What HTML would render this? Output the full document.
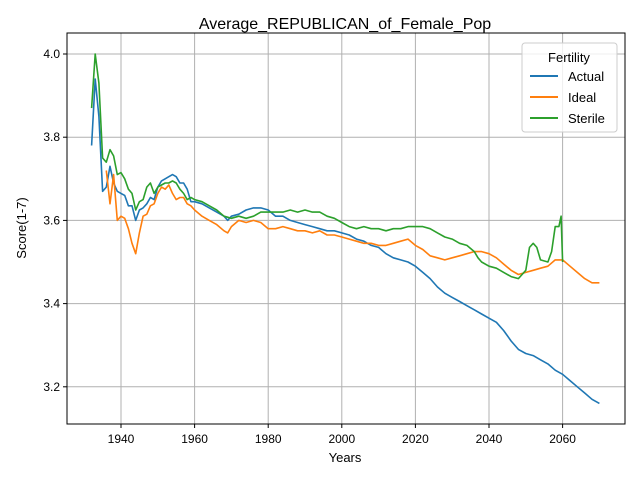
<!DOCTYPE html>
<html><head><meta charset="utf-8"><style>
body{margin:0;background:#fff;}
svg{font-family:"Liberation Sans","DejaVu Sans",sans-serif;}
</style></head><body>
<svg id="chart" width="640" height="480" viewBox="0 0 640 480">
<rect x="0" y="0" width="640" height="480" fill="#fff"/>
<text x="345" y="29" font-size="16" text-anchor="middle">Average_REPUBLICAN_of_Female_Pop</text>
<g id="grid"></g>
<g id="series"></g>
<rect x="67" y="33" width="558" height="391" fill="none" stroke="#000" stroke-width="1"/>
<g id="ticks"></g>
<text x="345" y="462" font-size="13" text-anchor="middle">Years</text>
<text x="26" y="228" font-size="13" text-anchor="middle" transform="rotate(-90 26 228)">Score(1-7)</text>
<g>
<rect x="522" y="43" width="95" height="89" rx="3" fill="#fff" fill-opacity="0.8" stroke="#ccc"/>
<text x="569" y="62" font-size="13" text-anchor="middle">Fertility</text>
<line x1="530" y1="76" x2="558" y2="76" stroke="#1f77b4" stroke-width="2"/>
<text x="568" y="81" font-size="13">Actual</text>
<line x1="530" y1="97" x2="558" y2="97" stroke="#ff7f0e" stroke-width="2"/>
<text x="568" y="102" font-size="13">Ideal</text>
<line x1="530" y1="118" x2="558" y2="118" stroke="#2ca02c" stroke-width="2"/>
<text x="568" y="123" font-size="13">Sterile</text>
</g>
</svg>
<script>
const xTicks=[1940,1960,1980,2000,2020,2040,2060];
const yTicks=[3.2,3.4,3.6,3.8,4.0];
const actualYears=[1932,1933,1934,1935,1936,1937,1938,1939,1940,1941,1942,1943,1944,1945,1946,1947,1948,1949,1950,1951,1952,1953,1954,1955,1956,1957,1958,1959,1960,1962,1964,1966,1968,1969,1970,1972,1974,1976,1978,1980,1982,1984,1986,1988,1990,1992,1994,1996,1998,2000,2002,2004,2006,2008,2010,2012,2014,2016,2018,2020,2022,2024,2026,2028,2030,2032,2034,2036,2038,2040,2042,2044,2046,2048,2050,2052,2054,2056,2058,2060,2062,2064,2066,2068,2070];
const actualValues=[3.78,3.94,3.85,3.67,3.68,3.73,3.69,3.67,3.665,3.66,3.635,3.635,3.60,3.625,3.63,3.64,3.655,3.65,3.68,3.695,3.70,3.705,3.71,3.705,3.69,3.69,3.675,3.645,3.645,3.64,3.63,3.62,3.61,3.60,3.61,3.615,3.625,3.63,3.63,3.625,3.61,3.61,3.60,3.595,3.59,3.585,3.58,3.575,3.575,3.57,3.565,3.555,3.55,3.54,3.535,3.52,3.51,3.505,3.50,3.49,3.475,3.46,3.44,3.425,3.415,3.405,3.395,3.385,3.375,3.365,3.355,3.335,3.31,3.29,3.28,3.275,3.265,3.255,3.24,3.23,3.215,3.20,3.185,3.17,3.16];
const idealYears=[1936,1937,1938,1939,1940,1941,1942,1943,1944,1945,1946,1947,1948,1949,1950,1951,1952,1953,1954,1955,1956,1957,1958,1959,1960,1962,1964,1966,1968,1969,1970,1972,1974,1976,1978,1980,1982,1984,1986,1988,1990,1992,1994,1996,1998,2000,2002,2004,2006,2008,2010,2012,2014,2016,2018,2020,2022,2024,2026,2028,2030,2032,2034,2036,2038,2040,2042,2044,2046,2048,2050,2052,2054,2056,2058,2060,2062,2064,2066,2068,2070];
const idealValues=[3.72,3.64,3.71,3.60,3.61,3.605,3.58,3.545,3.52,3.57,3.61,3.615,3.635,3.64,3.665,3.68,3.675,3.685,3.665,3.65,3.655,3.655,3.64,3.635,3.625,3.61,3.60,3.59,3.575,3.57,3.585,3.60,3.595,3.60,3.595,3.58,3.58,3.585,3.58,3.575,3.575,3.57,3.575,3.565,3.565,3.56,3.555,3.55,3.545,3.545,3.54,3.54,3.545,3.55,3.555,3.54,3.53,3.515,3.51,3.505,3.51,3.515,3.52,3.525,3.525,3.52,3.51,3.495,3.48,3.47,3.475,3.48,3.485,3.49,3.505,3.505,3.49,3.475,3.46,3.45,3.45];
const sterileYears=[1932,1933,1934,1935,1936,1937,1938,1939,1940,1941,1942,1943,1944,1945,1946,1947,1948,1949,1950,1951,1952,1953,1954,1955,1956,1957,1958,1959,1960,1962,1964,1966,1968,1970,1972,1974,1976,1978,1980,1982,1984,1986,1988,1990,1992,1994,1996,1998,2000,2002,2004,2006,2008,2010,2012,2014,2016,2018,2020,2022,2024,2026,2028,2030,2032,2034,2036,2037,2038,2040,2042,2044,2046,2048,2050,2051,2052,2053,2054,2056,2057,2058,2059,2059.6,2060];
const sterileValues=[3.87,4.0,3.93,3.75,3.74,3.77,3.755,3.71,3.715,3.70,3.675,3.665,3.625,3.645,3.65,3.68,3.69,3.665,3.68,3.685,3.69,3.69,3.695,3.69,3.675,3.665,3.65,3.655,3.65,3.645,3.635,3.625,3.61,3.605,3.61,3.605,3.61,3.62,3.62,3.62,3.62,3.625,3.62,3.625,3.62,3.62,3.61,3.605,3.595,3.585,3.58,3.585,3.58,3.58,3.575,3.58,3.58,3.585,3.585,3.585,3.58,3.57,3.56,3.555,3.545,3.54,3.525,3.51,3.50,3.49,3.485,3.475,3.465,3.46,3.48,3.535,3.545,3.535,3.505,3.50,3.525,3.585,3.585,3.61,3.50];

const NS='http://www.w3.org/2000/svg';
function xs(yr){return 121+(yr-1940)*3.68;}
function ys(v){return 54+(4.0-v)*416;}
const grid=document.getElementById('grid'),ticks=document.getElementById('ticks'),series=document.getElementById('series');
function mk(tag,attrs,parent){const e=document.createElementNS(NS,tag);for(const k in attrs)e.setAttribute(k,attrs[k]);parent.appendChild(e);return e;}
xTicks.forEach(t=>{
  const x=xs(t);
  const g=mk('line',{x1:x,x2:x,y1:33,y2:424,stroke:'#b0b0b0','stroke-width':1},grid);
  
  
  const tk=mk('line',{x1:x,x2:x,y1:424,y2:428,stroke:'#000'},ticks);
  
  
  const tx=mk('text',{x:x,y:443,'font-size':12,'text-anchor':'middle'},ticks);
  tx.textContent=t;
  
  
});
yTicks.forEach(t=>{
  const y=ys(t);
  const g=mk('line',{x1:67,x2:625,y1:y,y2:y,stroke:'#b0b0b0','stroke-width':1},grid);
  
  
  const tk=mk('line',{x1:63,x2:67,y1:y,y2:y,stroke:'#000'},ticks);
  
  
  const tx=mk('text',{x:60,y:y+4,'font-size':12,'text-anchor':'end'},ticks);
  tx.textContent=t.toFixed(1);
  
  
});
function line(years,vals,color,name){
  const d=years.map((yr,i)=>(i?'L':'M')+xs(yr).toFixed(1)+','+ys(vals[i]).toFixed(1)).join(' ');
  const p=mk('path',{d:d,fill:'none',stroke:color,'stroke-width':1.6,'stroke-linejoin':'round'},series);
  
  
}
line(actualYears,actualValues,'#1f77b4','actual-line');
line(idealYears,idealValues,'#ff7f0e','ideal-line');
line(sterileYears,sterileValues,'#2ca02c','sterile-line');
</script>
</body></html>
